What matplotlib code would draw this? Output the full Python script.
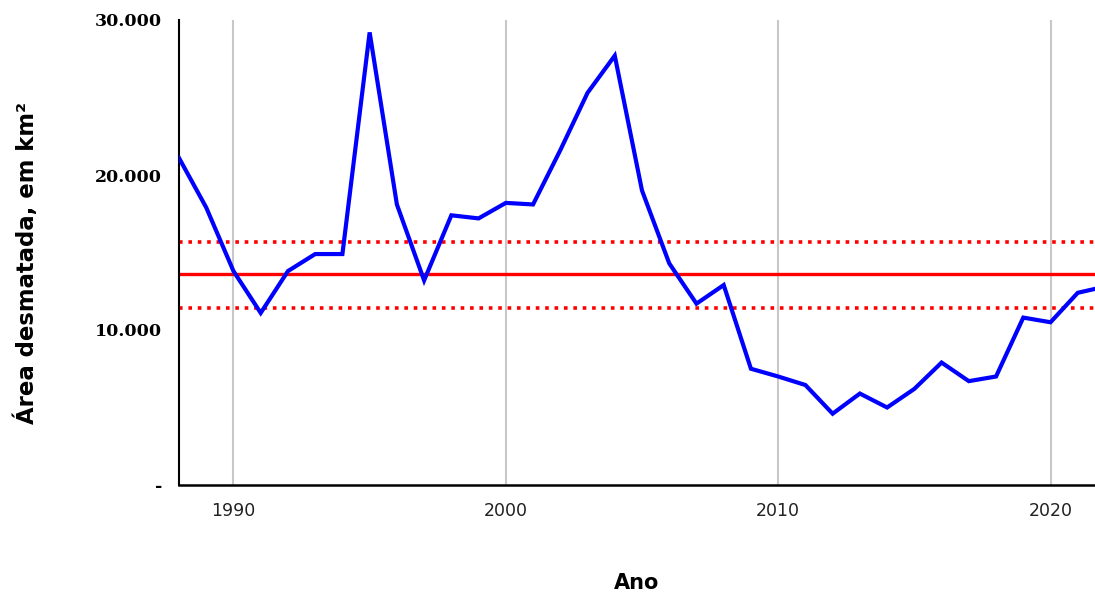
import matplotlib
matplotlib.use("Agg")
import matplotlib.pyplot as plt
from matplotlib.ticker import FuncFormatter

years = list(range(1988, 2023))
area_km2 = [21100, 17900, 13800, 11100, 13800, 14900, 14900, 29200, 18100, 13200,
            17400, 17200, 18200, 18100, 21600, 25300, 27700, 19000, 14300, 11700,
            12900, 7500, 7000, 6450, 4600, 5900, 5000, 6200, 7900, 6700,
            7000, 10800, 10500, 12400, 12800]
mean_value = 13600
upper_value = 15700
lower_value = 11400
x_ticks = [1990, 2000, 2010, 2020]
y_ticks = [0, 10000, 20000, 30000]

fig = plt.figure(figsize=(10.95, 5.93), dpi=100)
ax = fig.add_axes([179/1095, 1 - 485/593, 1 - 179/1095, (485 - 20)/593])

for xt in x_ticks:
    ax.axvline(xt, color="#c8c8c8", lw=1.5, zorder=0)

ax.axhline(mean_value, color="#ff0000", lw=2.4, zorder=2)
ax.axhline(upper_value, color="#ff0000", lw=2.6, ls=(0, (1, 1.6)), zorder=2)
ax.axhline(lower_value, color="#ff0000", lw=2.6, ls=(0, (1, 1.6)), zorder=2)
ax.plot(years, area_km2, color="#0000ff", lw=3.0, zorder=3, solid_joinstyle="miter")

ax.set_xlim(1988, 1988 + (1095 - 178.5) / 27.25)
ax.set_ylim(0, 30000)
ax.set_xticks(x_ticks)
ax.set_yticks(y_ticks)

def fmt(v, pos):
    if v == 0:
        return "-"
    return f"{int(v):,}".replace(",", ".")

ax.yaxis.set_major_formatter(FuncFormatter(fmt))
ax.tick_params(axis="both", length=0)
ax.tick_params(axis="x", pad=12, labelsize=12.5, labelcolor="#222222")
ax.tick_params(axis="y", pad=12, labelsize=12.5)
for lab in ax.get_yticklabels():
    lab.set_fontfamily("DejaVu Serif")
    lab.set_fontweight("bold")

for s in ["top", "right"]:
    ax.spines[s].set_visible(False)
ax.spines["left"].set_linewidth(1.5)
ax.spines["bottom"].set_linewidth(1.8)

fig.text(637/1095, 1 - 583/593, "Ano", ha="center", va="center",
         fontsize=15, fontweight="bold")
fig.text(27/1095, 1 - 263/593, "Área desmatada, em km²", ha="center", va="center",
         rotation=90, fontsize=16.4, fontweight="bold")

fig.savefig("out.png", dpi=100)
